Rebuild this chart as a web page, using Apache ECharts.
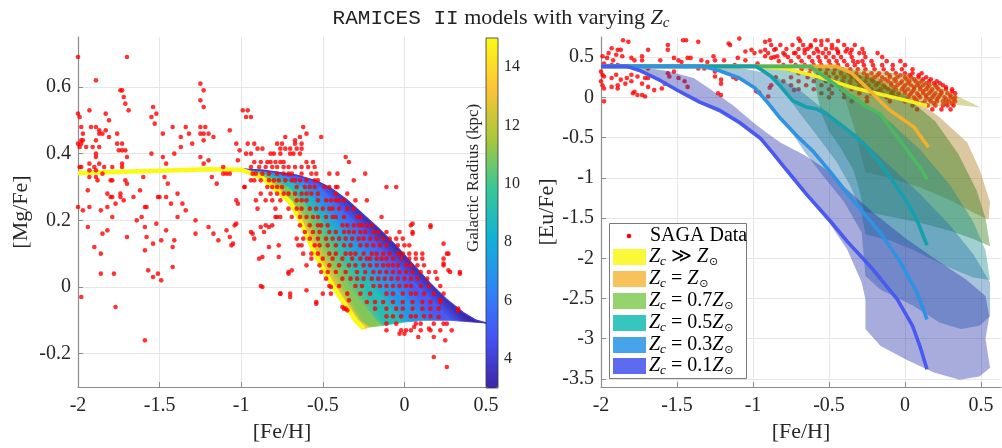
<!DOCTYPE html>
<html><head><meta charset="utf-8">
<script src="https://cdn.jsdelivr.net/npm/echarts@6/dist/echarts.min.js"></script>
<style>html,body{margin:0;padding:0;background:#fff}#c{width:1002px;height:448px}</style>
</head><body><div id="c"></div>
<script>
// ---------------- DATA ----------------
const xTicks = [-2, -1.5, -1, -0.5, 0, 0.5];
const mgTicks = [-0.2, 0, 0.2, 0.4, 0.6];
const euTicks = [-3.5, -3, -2.5, -2, -1.5, -1, -0.5, 0, 0.5];
const radiusTicks = [4, 6, 8, 10, 12, 14];

// SAGA [Mg/Fe] points (sparse part), [FeH, MgFe]
const sagaMgSparse = [[-2.0,0.69],[-1.70,0.69],[-1.89,0.62],[-1.74,0.59],[-1.73,0.59],[-1.72,0.57],[-1.71,0.55],[-1.69,0.53],[-1.93,0.53],[-2.0,0.52],[-1.99,0.51],[-1.83,0.52],[-1.81,0.50],[-1.98,0.48],[-1.92,0.48],[-1.89,0.48],[-1.87,0.47],[-1.87,0.46],[-1.85,0.46],[-1.83,0.47],[-1.97,0.46],[-1.81,0.45],[-1.76,0.46],[-1.98,0.44],[-1.97,0.44],[-1.89,0.44],[-2.0,0.43],[-1.99,0.42],[-1.98,0.43],[-1.95,0.42],[-1.91,0.42],[-1.87,0.42],[-1.76,0.43],[-1.73,0.43],[-1.75,0.41],[-1.73,0.41],[-1.71,0.41],[-1.89,0.40],[-1.89,0.39],[-1.70,0.39],[-1.73,0.37],[-1.93,0.37],[-1.87,0.37],[-1.99,0.36],[-1.98,0.36],[-1.90,0.36],[-1.84,0.36],[-1.79,0.36],[-1.73,0.36],[-1.93,0.35],[-1.89,0.35],[-1.93,0.33],[-1.89,0.33],[-1.85,0.34],[-1.88,0.32],[-1.80,0.32],[-1.79,0.32],[-1.71,0.32],[-1.70,0.31],[-1.94,0.29],[-1.82,0.28],[-1.74,0.28],[-1.74,0.27],[-1.80,0.27],[-1.79,0.27],[-1.72,0.26],[-1.77,0.25],[-1.62,0.29],[-1.66,0.27],[-2.0,0.24],[-1.93,0.24],[-1.82,0.24],[-1.97,0.23],[-1.86,0.23],[-1.79,0.21],[-1.64,0.20],[-1.94,0.18],[-1.82,0.17],[-1.85,0.16],[-1.70,0.15],[-1.90,0.12],[-1.86,0.10],[-1.86,0.04],[-1.78,0.04],[-1.98,-0.03],[-1.77,-0.06],[-1.59,-0.16],[-1.60,0.33],[-1.59,0.24],[-1.58,0.24],[-1.61,0.21],[-1.59,0.18],[-1.58,0.15],[-1.54,0.13],[-1.59,0.11],[-1.57,0.05],[-1.54,0.03],[-1.51,0.04],[-1.49,0.02],[-1.52,0.19],[-1.51,0.27],[-1.50,0.27],[-1.54,0.54],[-1.55,0.51],[-1.52,0.52],[-1.53,0.49],[-1.55,0.40],[-1.48,0.46],[-1.48,0.39],[-1.46,0.37],[-1.47,0.33],[-1.45,0.31],[-1.46,0.27],[-1.43,0.25],[-1.39,0.28],[-1.36,0.25],[-1.34,0.23],[-1.39,0.21],[-1.46,0.17],[-1.49,0.14],[-1.41,0.14],[-1.42,0.12],[-1.42,0.06],[-1.42,0.48],[-1.37,0.45],[-1.37,0.42],[-1.34,0.48],[-1.32,0.46],[-1.30,0.43],[-1.41,0.40],[-1.28,0.20],[-1.28,0.16],[-1.25,0.61],[-1.23,0.59],[-1.25,0.56],[-1.23,0.54],[-1.25,0.48],[-1.22,0.48],[-1.25,0.46],[-1.23,0.46],[-1.20,0.46],[-1.23,0.44],[-1.17,0.45],[-1.25,0.39],[-1.23,0.37],[-1.20,0.38],[-1.18,0.33],[-1.15,0.31],[-1.11,0.36],[-1.11,0.34],[-1.09,0.34],[-1.07,0.34],[-1.07,0.47],[-1.03,0.43],[-1.01,0.41],[-1.02,0.38],[-1.02,0.25],[-1.03,0.19],[-1.20,0.18],[-1.17,0.16],[-1.14,0.14],[-1.09,0.17],[-1.07,0.15],[-1.05,0.13],[-0.99,0.53],[-0.96,0.53],[-0.97,0.51],[-0.94,0.51],[-0.98,0.30],
 [-0.73,0.45],[-0.62,0.48],[-0.60,0.46],[-0.64,0.45],[-0.51,0.45],[-0.67,0.44],
 [-0.03,-0.14],[0.0,-0.14],[0.085,-0.15],[0.18,-0.15],[0.25,-0.16],[0.18,-0.21],[0.26,-0.24],[-0.11,-0.13],[0.06,-0.12],[0.15,-0.125],
 [0.24,0.13],[0.26,0.10],[0.24,0.07],[0.34,0.04],[0.27,0.05],[0.33,-0.07],[0.22,-0.04],[0.21,-0.09],[0.26,-0.11],[0.05,0.19],[0.05,0.16],[0.16,0.18],
 [-0.87,0.09],[-0.87,0.0],[-0.83,0.12],[-0.77,0.09],[-0.76,-0.02],[-0.70,-0.03],[-0.71,0.04],[-0.69,0.05],[-0.60,-0.01],[-0.54,-0.05],[-0.50,-0.02],[-0.34,-0.04],[-0.38,-0.06],[-0.35,-0.07],[-0.45,0.0],[-0.93,0.16],[-0.88,0.18],[-0.83,0.18]];

// SAGA [Mg/Fe] dense part, rows: [MgFe, [FeH ...]]
const sagaMgRows = [
 [0.43,[-0.96,-0.92,-0.78,-0.75,-0.67,-0.63]],
 [0.415,[-0.90,-0.87,-0.76,-0.73,-0.70,-0.66,-0.63]],
 [0.40,[-0.97,-0.94,-0.82,-0.80,-0.76,-0.70,-0.68,-0.64]],
 [0.39,[-0.36]],
 [0.375,[-0.92,-0.88,-0.84,-0.82,-0.79,-0.76,-0.74,-0.60,-0.56,-0.34]],
 [0.36,[-0.94,-0.89,-0.85,-0.81,-0.78,-0.74,-0.71,-0.67,-0.63,-0.59,-0.55]],
 [0.34,[-0.93,-0.91,-0.87,-0.83,-0.78,-0.74,-0.71,-0.69,-0.63,-0.57,-0.54,-0.46,-0.41,-0.24]],
 [0.32,[-0.94,-0.92,-0.88,-0.83,-0.80,-0.77,-0.73,-0.69,-0.67,-0.64,-0.60,-0.55,-0.53,-0.31]],
 [0.30,[-0.98,-0.84,-0.81,-0.78,-0.75,-0.66,-0.61,-0.58,-0.55,-0.49,-0.46,-0.42,-0.41,-0.11,-0.05]],
 [0.28,[-0.88,-0.82,-0.78,-0.74,-0.71,-0.67,-0.63,-0.60,-0.57,-0.53,-0.42,-0.35]],
 [0.26,[-1.03,-0.91,-0.85,-0.81,-0.76,-0.66,-0.63,-0.60,-0.53,-0.48,-0.45,-0.42,-0.40,-0.37,-0.30,-0.23]],
 [0.235,[-0.90,-0.79,-0.71,-0.66,-0.63,-0.58,-0.54,-0.50,-0.46,-0.44,-0.40,-0.35,-0.31]],
 [0.21,[-0.79,-0.78,-0.76,-0.69,-0.64,-0.60,-0.56,-0.53,-0.48,-0.44,-0.42,-0.37,-0.29,-0.27,-0.14]],
 [0.185,[-1.04,-0.85,-0.81,-0.64,-0.58,-0.53,-0.51,-0.47,-0.38,-0.35,-0.31,-0.28,-0.26,-0.23,-0.20,0.04,0.16]],
 [0.165,[-0.94,-0.86,-0.61,-0.56,-0.52,-0.46,-0.42,-0.37,-0.34,-0.31,-0.27,-0.24,-0.19,-0.16,-0.11,-0.03,0.05]],
 [0.145,[-0.92,-0.66,-0.62,-0.58,-0.53,-0.48,-0.44,-0.40,-0.36,-0.32,-0.28,-0.25,-0.21,-0.17,-0.13,-0.09,-0.05,-0.01]],
 [0.125,[-1.06,-0.77,-0.65,-0.63,-0.55,-0.52,-0.47,-0.42,-0.37,-0.33,-0.27,-0.23,-0.19,-0.15,-0.11,-0.04,0.0,0.03]],
 [0.10,[-0.62,-0.57,-0.53,-0.46,-0.42,-0.36,-0.33,-0.30,-0.25,-0.20,-0.17,-0.13,-0.09,-0.04,-0.01,0.03,0.07,0.11,0.27]],
 [0.085,[-0.89,-0.57,-0.50,-0.44,-0.38,-0.32,-0.27,-0.23,-0.21,-0.17,-0.14,-0.11,-0.07,-0.02,0.03,0.07,0.11,0.24]],
 [0.065,[-0.60,-0.52,-0.46,-0.40,-0.34,-0.30,-0.25,-0.21,-0.17,-0.13,-0.10,-0.07,-0.04,0.01,0.04,0.08,0.12,0.24]],
 [0.045,[-0.71,-0.51,-0.47,-0.42,-0.36,-0.29,-0.24,-0.19,-0.15,-0.11,-0.07,-0.03,0.01,0.05,0.10,0.15,0.19,0.28,0.34]],
 [0.025,[-0.48,-0.38,-0.33,-0.29,-0.25,-0.20,-0.16,-0.12,-0.08,-0.04,0.0,0.04,0.08,0.14,0.20]],
 [0.003,[-0.88,-0.46,-0.40,-0.30,-0.26,-0.19,-0.15,-0.11,-0.07,-0.03,0.01,0.04,0.10,0.15,0.22]],
 [-0.02,[-0.76,-0.70,-0.45,-0.35,-0.27,-0.21,-0.11,-0.07,-0.01,0.04,0.07,0.12,0.18,0.24]],
 [-0.045,[-0.54,-0.23,-0.18,-0.13,-0.07,-0.01,0.05,0.11,0.16,0.22]],
 [-0.065,[-0.37,-0.36,-0.18,-0.11,-0.05,-0.01,0.05,0.11,0.16,0.21,0.33]],
 [-0.088,[-0.11,-0.07,-0.02,0.04,0.07,0.12,0.16]],
 [-0.11,[-0.11,-0.05,0.07,0.10,0.18,0.24]],
 [-0.13,[-0.02,0.01,0.04,0.10,0.16,0.22,0.29]]
];

// RAMICES II [Mg/Fe] tracks for several galactic radii (kpc)
const trackRadii = [15, 13, 11, 9, 7, 5, 3];
const trackR15 = [[-2,0.342],[-1.5,0.349],[-1.2,0.353],[-1.0,0.352],[-0.95,0.343],[-0.87,0.327],[-0.81,0.30],[-0.70,0.255],[-0.64,0.2],[-0.55,0.1],[-0.435,0.0],[-0.30,-0.1],[-0.25,-0.125]];
const trackR13 = [[-1.0,0.353],[-0.93,0.343],[-0.795,0.30],[-0.625,0.2],[-0.53,0.1],[-0.41,0.0],[-0.27,-0.1],[-0.21,-0.12]];
const trackR11 = [[-1.0,0.353],[-0.9,0.345],[-0.765,0.30],[-0.58,0.2],[-0.47,0.1],[-0.34,0.0],[-0.17,-0.1],[-0.13,-0.115]];
const trackR9 = [[-1.0,0.354],[-0.88,0.345],[-0.71,0.30],[-0.50,0.2],[-0.36,0.1],[-0.2,0.0],[-0.02,-0.1],[0.0,-0.105]];
const trackR7 = [[-1.0,0.354],[-0.85,0.345],[-0.62,0.30],[-0.42,0.2],[-0.25,0.1],[-0.07,0.0],[0.12,-0.1]];
const trackR5 = [[-1.0,0.354],[-0.8,0.345],[-0.52,0.30],[-0.32,0.2],[-0.12,0.1],[0.08,0.0],[0.28,-0.1]];
const trackR3 = [[-2,0.342],[-1.5,0.349],[-1.2,0.353],[-1.0,0.354],[-0.865,0.350],[-0.66,0.335],[-0.54,0.318],[-0.456,0.298],[-0.354,0.262],[-0.252,0.217],[-0.15,0.172],[-0.048,0.122],[0.054,0.067],[0.156,0.012],[0.26,-0.038],[0.36,-0.077],[0.44,-0.100],[0.5,-0.108]];

// SAGA [Eu/Fe] sparse points
const sagaEuSparse = [[-1.855,0.71],[-1.82,0.69],[-1.93,0.61],[-1.89,0.59],[-1.87,0.59],[-1.95,0.55],[-1.90,0.53],[-1.99,0.51],[-1.96,0.49],[-1.92,0.46],[-1.86,0.51],[-1.80,0.49],[-1.73,0.51],[-1.78,0.46],[-1.69,0.59],[-1.98,0.42],[-1.93,0.40],[-1.89,0.40],[-1.82,0.38],[-1.78,0.38],[-1.73,0.46],[-1.69,0.36],[-2.0,0.32],[-1.99,0.28],[-1.98,0.26],[-1.93,0.24],[-1.90,0.28],[-1.87,0.22],[-1.83,0.24],[-1.80,0.28],[-1.76,0.26],[-1.71,0.24],[-1.89,0.15],[-1.84,0.17],[-1.80,0.20],[-1.73,0.17],[-1.69,0.24],[-1.99,0.15],[-1.98,0.11],[-1.93,0.13],[-2.0,0.20],[-1.89,0.11],[-1.78,0.07],[-1.73,0.03],[-1.71,0.01],[-1.69,0.13],[-1.65,0.09],[-1.60,0.11],[-1.58,0.17],[-1.98,-0.05],[-1.79,0.05],[-1.76,0.03],[-1.61,0.46],[-1.56,0.65],[-1.56,0.59],[-1.52,0.49],[-1.46,0.71],[-1.44,0.71],[-1.49,0.46],[-1.47,0.44],[-1.43,0.49],[-1.36,0.69],[-1.41,0.49],[-1.34,0.46],[-1.26,0.51],[-1.25,0.46],[-1.19,0.46],[-1.30,0.44],[-1.36,0.36],[-1.32,0.36],[-1.25,0.32],[-1.25,0.26],[-1.21,0.22],[-1.21,0.17],[-1.23,0.05],[-1.21,0.03],[-1.43,0.13],[-1.45,0.20],[-1.49,0.24],[-1.56,0.30],[-1.55,0.26],[-1.52,0.32],[-1.16,0.67],[-1.15,0.65],[-1.09,0.73],[-1.05,0.57],[-1.01,0.59],[-0.99,0.55],[-0.95,0.57],[-0.92,0.59],[-0.92,0.69],[-0.89,0.71],[-0.88,0.65],[-0.86,0.59],[-1.10,0.49],[-1.05,0.46],[-1.12,0.40],[-0.97,0.42],[-0.92,0.51],[-0.88,0.49],[-0.84,0.51],[-0.79,0.53],[-0.73,0.55],[-0.70,0.73],[-0.67,0.65],[-0.66,0.59],[-0.62,0.63],[-0.59,0.71],[-0.57,0.57],[-0.51,0.71],[-0.48,0.61],[-0.44,0.57],[-0.39,0.57],[-0.35,0.59],[-0.31,0.44],[-0.27,0.55],[-0.88,0.15],[-0.97,0.07],[-0.90,0.01],[-0.73,0.09],[-1.13,0.25],[-1.11,0.23],[-0.98,0.08],[-0.96,0.06],[-0.89,0.12]];

// SAGA [Eu/Fe] dense part, rows: [EuFe, [FeH ...]]
const sagaEuRows = [
 [0.70,[-0.69,-0.55,-0.44]],
 [0.65,[-0.82,-0.74,-0.62,-0.55,-0.48,-0.40,-0.33]],
 [0.60,[-0.85,-0.78,-0.70,-0.64,-0.58,-0.52,-0.45,-0.38,-0.28]],
 [0.55,[-0.90,-0.80,-0.72,-0.66,-0.60,-0.54,-0.50,-0.44,-0.36,-0.30,-0.18]],
 [0.50,[-0.86,-0.77,-0.70,-0.63,-0.57,-0.52,-0.47,-0.42,-0.35,-0.26,-0.15]],
 [0.45,[-0.83,-0.75,-0.68,-0.61,-0.56,-0.50,-0.45,-0.40,-0.34,-0.28,-0.22,-0.12,-0.03]],
 [0.40,[-0.80,-0.72,-0.66,-0.60,-0.55,-0.49,-0.44,-0.38,-0.33,-0.27,-0.21,-0.15,-0.08,0.0]],
 [0.35,[-0.76,-0.68,-0.62,-0.56,-0.51,-0.46,-0.41,-0.36,-0.31,-0.26,-0.20,-0.14,-0.08,-0.02,0.05]],
 [0.30,[-0.70,-0.63,-0.57,-0.52,-0.47,-0.42,-0.37,-0.32,-0.27,-0.22,-0.17,-0.12,-0.06,0.0,0.05,0.11]],
 [0.275,[-0.35,-0.25,-0.18,-0.10,-0.03,0.03,0.09]],
 [0.25,[-0.85,-0.75,-0.64,-0.58,-0.50,-0.45,-0.40,-0.35,-0.30,-0.25,-0.20,-0.15,-0.10,-0.05,0.0,0.04,0.09,0.14]],
 [0.225,[-0.32,-0.22,-0.13,-0.07,0.01,0.06,0.12,0.17]],
 [0.20,[-0.80,-0.70,-0.60,-0.52,-0.46,-0.41,-0.36,-0.31,-0.26,-0.21,-0.16,-0.11,-0.06,-0.02,0.03,0.07,0.11,0.16,0.21]],
 [0.175,[-0.28,-0.18,-0.09,-0.03,0.02,0.09,0.14,0.19,0.23]],
 [0.15,[-0.75,-0.65,-0.55,-0.48,-0.42,-0.36,-0.30,-0.24,-0.19,-0.14,-0.09,-0.05,0.0,0.04,0.08,0.12,0.16,0.20,0.25]],
 [0.125,[-0.25,-0.13,-0.07,-0.01,0.06,0.10,0.15,0.21,0.27]],
 [0.10,[-0.70,-0.60,-0.50,-0.42,-0.35,-0.28,-0.22,-0.16,-0.11,-0.06,-0.02,0.02,0.06,0.10,0.14,0.18,0.22,0.27,0.31]],
 [0.075,[-0.18,-0.08,0.0,0.05,0.12,0.17,0.24,0.31]],
 [0.05,[-0.55,-0.48,-0.40,-0.30,-0.22,-0.15,-0.09,-0.04,0.0,0.04,0.08,0.12,0.16,0.20,0.24,0.28,0.33]],
 [0.025,[-0.08,0.03,0.09,0.14,0.19,0.23,0.30]],
 [0.0,[-0.50,-0.40,-0.25,-0.12,-0.05,0.02,0.06,0.10,0.14,0.18,0.22,0.26,0.30,0.33]],
 [-0.025,[0.07,0.16,0.21,0.27,0.32]],
 [-0.05,[-0.35,-0.25,-0.10,0.0,0.08,0.13,0.17,0.21,0.25,0.29,0.33]],
 [-0.075,[0.11,0.19,0.27,0.31]],
 [-0.10,[0.05,0.15,0.20,0.25,0.28,0.32]],
 [-0.15,[0.08,0.18,0.24,0.30]]
];

// model names
const modelNames = ['Zc >> Zsun', 'Zc = Zsun', 'Zc = 0.7 Zsun', 'Zc = 0.5 Zsun', 'Zc = 0.3 Zsun', 'Zc = 0.1 Zsun'];
const modelLabels = ['{i|Z}{b|c}{n| \u226B }{i|Z}{o|\u2299}', '{i|Z}{b|c}{n| = }{i|Z}{o|\u2299}', '{i|Z}{b|c}{n| = 0.7}{i|Z}{o|\u2299}', '{i|Z}{b|c}{n| = 0.5}{i|Z}{o|\u2299}', '{i|Z}{b|c}{n| = 0.3}{i|Z}{o|\u2299}', '{i|Z}{b|c}{n| = 0.1}{i|Z}{o|\u2299}'];

// [Eu/Fe] model central lines
const euLineHigh = [[-2,0.385],[-1.0,0.385],[-0.78,0.355],[-0.56,0.25],[-0.34,0.12],[-0.12,0.02],[0.01,-0.04],[0.145,-0.105]];
const euLineSun = [[-2,0.385],[-0.45,0.385],[-0.35,0.30],[-0.25,0.12],[-0.16,-0.05],[-0.10,-0.16],[-0.03,-0.25],[0.06,-0.37],[0.12,-0.53],[0.155,-0.62]];
const euLine07 = [[-2,0.385],[-0.62,0.385],[-0.56,0.30],[-0.43,0.12],[-0.34,0.0],[-0.25,-0.12],[-0.16,-0.21],[-0.10,-0.37],[-0.03,-0.54],[0.03,-0.70],[0.10,-0.87],[0.145,-1.02]];
const euLine05 = [[-2,0.385],[-0.98,0.385],[-0.95,0.35],[-0.88,0.26],[-0.82,0.14],[-0.74,-0.04],[-0.65,-0.12],[-0.58,-0.145],[-0.52,-0.2],[-0.43,-0.33],[-0.34,-0.46],[-0.25,-0.62],[-0.16,-0.83],[-0.08,-1.04],[0.01,-1.29],[0.08,-1.53],[0.145,-1.84]];
const euLine03 = [[-2,0.385],[-1.33,0.385],[-1.22,0.33],[-1.09,0.24],[-0.99,0.12],[-0.91,-0.05],[-0.82,-0.26],[-0.71,-0.48],[-0.60,-0.68],[-0.49,-0.93],[-0.38,-1.19],[-0.27,-1.44],[-0.16,-1.69],[-0.03,-2.05],[0.08,-2.43],[0.145,-2.76]];
const euLine01 = [[-2,0.385],[-1.83,0.385],[-1.74,0.33],[-1.61,0.21],[-1.48,0.07],[-1.35,-0.06],[-1.22,-0.16],[-1.09,-0.31],[-0.95,-0.51],[-0.87,-0.69],[-0.78,-0.90],[-0.65,-1.20],[-0.49,-1.54],[-0.38,-1.79],[-0.21,-2.14],[-0.05,-2.51],[0.05,-2.84],[0.10,-3.10],[0.145,-3.38]];

// [Eu/Fe] model spread regions (outline polygons)
const euBandHigh = [[-0.75,0.385],[-0.4,0.37],[-0.2,0.33],[0.0,0.29],[0.19,0.17],[0.32,0.04],[0.5,-0.125],[0.32,-0.09],[0.15,-0.12],[0.0,-0.06],[-0.2,0.04],[-0.4,0.16],[-0.6,0.3]];
const euBandSun = [[-0.45,0.385],[-0.2,0.27],[0.0,0.06],[0.23,-0.25],[0.41,-0.56],[0.49,-0.89],[0.56,-1.3],[0.55,-1.52],[0.45,-1.43],[0.3,-1.28],[0.1,-1.12],[-0.1,-1.0],[-0.26,-0.93],[-0.29,-0.7],[-0.33,-0.4],[-0.38,-0.1],[-0.42,0.15],[-0.44,0.33]];
const euBand07 = [[-0.62,0.385],[-0.4,0.34],[-0.2,0.22],[0.0,0.02],[0.2,-0.3],[0.35,-0.7],[0.47,-1.15],[0.53,-1.5],[0.56,-1.85],[0.45,-1.76],[0.3,-1.66],[0.1,-1.56],[-0.1,-1.48],[-0.27,-1.42],[-0.30,-1.15],[-0.34,-0.9],[-0.42,-0.64],[-0.50,-0.42],[-0.55,-0.2],[-0.58,0.05],[-0.60,0.3]];
const euBand05 = [[-0.98,0.385],[-0.7,0.34],[-0.5,0.2],[-0.3,-0.02],[-0.1,-0.3],[0.1,-0.65],[0.3,-1.1],[0.45,-1.55],[0.53,-1.9],[0.56,-2.27],[0.45,-2.24],[0.27,-2.10],[0.05,-1.89],[-0.1,-1.78],[-0.26,-1.70],[-0.29,-1.4],[-0.36,-1.1],[-0.45,-0.8],[-0.55,-0.55],[-0.63,-0.35],[-0.7,-0.18],[-0.76,-0.02],[-0.84,0.16],[-0.92,0.32]];
const euBand03 = [[-1.33,0.385],[-1.1,0.37],[-0.9,0.3],[-0.7,0.1],[-0.5,-0.2],[-0.3,-0.5],[-0.1,-0.85],[0.1,-1.2],[0.3,-1.6],[0.45,-1.95],[0.56,-2.3],[0.56,-2.72],[0.49,-2.84],[0.37,-2.88],[0.23,-2.80],[0.055,-2.59],[-0.16,-2.39],[-0.26,-2.22],[-0.285,-1.68],[-0.4,-1.3],[-0.55,-0.95],[-0.66,-0.68],[-0.75,-0.42],[-0.84,-0.2],[-0.91,-0.05],[-0.99,0.12],[-1.09,0.24],[-1.22,0.33]];
const euBand01 = [[-1.80,0.385],[-1.68,0.36],[-1.57,0.33],[-1.39,0.24],[-1.28,0.10],[-1.13,-0.10],[-1.0,-0.31],[-0.91,-0.44],[-0.82,-0.56],[-0.66,-0.72],[-0.53,-0.88],[-0.43,-1.06],[-0.21,-1.43],[0.01,-1.76],[0.23,-2.05],[0.40,-2.26],[0.53,-2.47],[0.555,-2.72],[0.53,-3.0],[0.56,-3.36],[0.49,-3.47],[0.36,-3.51],[0.19,-3.42],[0.01,-3.26],[-0.16,-3.09],[-0.26,-2.88],[-0.26,-2.51],[-0.285,-2.30],[-0.38,-1.89],[-0.49,-1.58],[-0.65,-1.23],[-0.78,-0.93],[-0.87,-0.72],[-0.95,-0.54],[-1.09,-0.34],[-1.22,-0.19],[-1.35,-0.08],[-1.48,0.05],[-1.61,0.19],[-1.74,0.32]];

// ---------------- STYLE ----------------
const serif = "'Liberation Serif','DejaVu Serif',serif";
const parula = ['#3e26a8','#4852f4','#2d87f7','#11b1d6','#37c897','#abc739','#fec338','#f9fb14'];
const lineColors = ['#f5f020','#f0b030','#4cb860','#16a0ae','#2f92e2','#4a5af0'];
const legendColors = ['#f9f93a','#f7c25a','#95d36d','#36c6bd','#47a3ea','#5d6bf0'];
const bandFills = ['rgba(157,157,17,0.4)','rgba(167,117,17,0.4)','rgba(37,117,17,0.4)','rgba(17,137,137,0.4)','rgba(32,107,167,0.4)','rgba(37,47,170,0.4)'];

function hex2rgb(h){return [parseInt(h.substr(1,2),16),parseInt(h.substr(3,2),16),parseInt(h.substr(5,2),16)];}
function parulaAt(r){
  const t=(r-3)/12*(parula.length-1); const i=Math.min(Math.floor(t),parula.length-2); const f=t-i;
  const a=hex2rgb(parula[i]), b=hex2rgb(parula[i+1]);
  return 'rgb('+a.map((v,k)=>Math.round(v+(b[k]-v)*f)).join(',')+')';
}
function rowsToPoints(rows){const out=[];rows.forEach(([y,xs])=>xs.forEach(x=>out.push([x,y])));return out;}
function nearestY(curve, y){let best=curve[0];curve.forEach(p=>{if(Math.abs(p[1]-y)<Math.abs(best[1]-y))best=p;});return best;}

const tracks = [trackR15, trackR13, trackR11, trackR9, trackR7, trackR5, trackR3];
const euLines = [euLineHigh, euLineSun, euLine07, euLine05, euLine03, euLine01];
const euBands = [euBandHigh, euBandSun, euBand07, euBand05, euBand03, euBand01];

const axisCol = '#8c8c8c', gridCol = '#e6e6e6', txtCol = '#262626';
function xAxisCfg(gi, max){
  return {type:'value', gridIndex:gi, min:-2, max:max,
    axisLine:{show:true, onZero:false, lineStyle:{color:axisCol, width:1.2}},
    axisTick:{show:true, inside:true, length:5, customValues:xTicks, lineStyle:{color:axisCol}},
    axisLabel:{customValues:xTicks, margin:9, color:txtCol, fontFamily:serif, fontSize:20},
    splitLine:{show:true, lineStyle:{color:gridCol, width:1}},
    name:'[Fe/H]', nameLocation:'middle', nameGap:31,
    nameTextStyle:{color:txtCol, fontFamily:serif, fontSize:22}};
}
function yAxisCfg(gi, min, max, ticks, name, gap){
  return {type:'value', gridIndex:gi, min:min, max:max,
    axisLine:{show:true, onZero:false, lineStyle:{color:axisCol, width:1.2}},
    axisTick:{show:true, inside:true, length:5, customValues:ticks, lineStyle:{color:axisCol}},
    axisLabel:{customValues:ticks, margin:7, color:txtCol, fontFamily:serif, fontSize:20},
    splitLine:{show:true, lineStyle:{color:gridCol, width:1}},
    name:name, nameLocation:'middle', nameGap:gap, nameRotate:90,
    nameTextStyle:{color:txtCol, fontFamily:serif, fontSize:22}};
}

const series = [];
// 0: left model region (custom polygons between adjacent radius tracks)
series.push({
  type:'custom', xAxisIndex:0, yAxisIndex:0, clip:true, z:1, silent:true,
  data: tracks.slice(0,-1).map((t,i)=>[t[t.length-1][0], t[t.length-1][1], i]),
  renderItem:function(params, api){
    const k = params.dataIndex;
    const a = tracks[k].filter(p=>p[0]>=-1.0), b = tracks[k+1].filter(p=>p[0]>=-1.0);
    const pts = a.concat(b.slice().reverse()).map(p=>api.coord(p));
    const t0 = api.coord(nearestY(tracks[k],0.2)), t1 = api.coord(nearestY(tracks[k],0.0));
    let tx=t1[0]-t0[0], ty=t1[1]-t0[1]; const tl=Math.hypot(tx,ty); tx/=tl; ty/=tl;
    let nx=ty, ny=-tx;
    const A = api.coord(nearestY(tracks[k],0.1)), B = api.coord(nearestY(tracks[k+1],0.1));
    let d = (B[0]-A[0])*nx + (B[1]-A[1])*ny;
    if (d<0){nx=-nx;ny=-ny;d=-d;}
    const grad = {type:'linear', global:true, x:A[0], y:A[1], x2:A[0]+nx*d, y2:A[1]+ny*d,
      colorStops:[{offset:0,color:parulaAt(trackRadii[k])},{offset:1,color:parulaAt(trackRadii[k+1])}]};
    return {type:'polygon', shape:{points:pts}, style:{fill:grad, stroke:grad, lineWidth:0.8}};
  }
});
// 1,2: boundary tracks
series.push({type:'line', xAxisIndex:0, yAxisIndex:0, z:2, silent:true, showSymbol:false, data:trackR3, lineStyle:{color:parulaAt(3.8), width:1.5}});
series.push({type:'line', xAxisIndex:0, yAxisIndex:0, z:2, silent:true, showSymbol:false, data:trackR15, lineStyle:{color:parulaAt(15), width:4.5}});
// 3: SAGA Mg
series.push({name:'SAGA Data', type:'scatter', xAxisIndex:0, yAxisIndex:0, z:3, silent:true, symbolSize:4.6,
  itemStyle:{color:'#ff0000'}, data: sagaMgSparse.concat(rowsToPoints(sagaMgRows))});
// 4: SAGA Eu
series.push({name:'SAGA Data', type:'scatter', xAxisIndex:1, yAxisIndex:1, z:1, silent:true, symbolSize:4.6,
  itemStyle:{color:'#ff0000'}, data: sagaEuSparse.concat(rowsToPoints(sagaEuRows))});
// 5: Eu bands
series.push({
  type:'custom', xAxisIndex:1, yAxisIndex:1, clip:true, z:2, silent:true,
  data: euBands.map((b,i)=>[b[0][0], b[0][1], i]),
  renderItem:function(params, api){
    const k = params.dataIndex;
    return {type:'polygon', shape:{points:euBands[k].map(p=>api.coord(p))}, style:{fill:bandFills[k]}};
  }
});
// 6..11: Eu lines
euLines.forEach((ln,i)=>{
  series.push({name:modelNames[i], type:'line', xAxisIndex:1, yAxisIndex:1, z:3, silent:true, showSymbol:false,
    data:ln, lineStyle:{color:lineColors[i], width:3.6}});
});
// 12: colorbar helper
series.push({type:'scatter', xAxisIndex:2, yAxisIndex:2, data:[], silent:true});

// legend (drawn as graphic)
const legX = 609, legY = 223, legW = 137, legH = 155;
const rich = {
  i:{fontFamily:serif, fontStyle:'italic', fontSize:20, color:'#000'},
  b:{fontFamily:serif, fontStyle:'italic', fontSize:13, color:'#000', padding:[10,0,0,0]},
  n:{fontFamily:serif, fontSize:20, color:'#000'},
  o:{fontFamily:"'DejaVu Sans',sans-serif", fontSize:11, color:'#000', padding:[10,0,0,1]}
};
const graphics = [
  {type:'rect', z:50, shape:{x:legX+0.5, y:legY+0.5, width:legW, height:legH}, style:{fill:'#fff', stroke:'#7a7a7a', lineWidth:1}},
  {type:'circle', z:51, shape:{cx:629, cy:236, r:2.3}, style:{fill:'#ff0000'}},
  {type:'text', z:51, x:650, y:236, style:{text:'SAGA Data', fontFamily:serif, fontSize:20, fill:'#000', verticalAlign:'middle'}},
];
const rowY = [257, 279, 301, 323, 345, 366];
modelLabels.forEach((lab,i)=>{
  graphics.push({type:'rect', z:51, shape:{x:613, y:rowY[i]-8, width:33, height:16}, style:{fill:legendColors[i]}});
  graphics.push({type:'text', z:51, x:649, y:rowY[i], style:{text:lab, rich:rich, verticalAlign:'middle'}});
});
// colorbar frame and label
graphics.push({type:'rect', z:60, shape:{x:486, y:38, width:12, height:350}, style:{fill:null, stroke:'#333', lineWidth:0.8}});
graphics.push({type:'text', z:60, x:474, y:178, rotation:Math.PI/2, style:{text:'Galactic Radius (kpc)', fontFamily:serif, fontSize:17, fill:txtCol, align:'center', verticalAlign:'middle'}});

const option = {
  animation:false,
  backgroundColor:'#fff',
  title:{left:'center', top:1, text:'{m|RAMICES II}{s| models with varying }{i|Z}{b|c}',
    textStyle:{fontWeight:'normal', rich:{
      m:{fontFamily:"'Liberation Mono','DejaVu Sans Mono',monospace", fontWeight:'normal', fontSize:21, color:'#222'},
      s:{fontFamily:serif, fontWeight:'normal', fontSize:22, color:'#222'},
      i:{fontFamily:serif, fontWeight:'normal', fontStyle:'italic', fontSize:22, color:'#222'},
      b:{fontFamily:serif, fontWeight:'normal', fontStyle:'italic', fontSize:15, color:'#222', padding:[10,0,0,0]}}}},
  grid:[
    {left:78, top:37, width:408, height:350},
    {left:601, top:37, width:400, height:350},
    {left:486, top:38, width:12, height:350}
  ],
  xAxis:[xAxisCfg(0, 0.5), xAxisCfg(1, 0.632),
    {type:'value', gridIndex:2, show:false, min:0, max:1}],
  yAxis:[yAxisCfg(0, -0.3, 0.75, mgTicks, '[Mg/Fe]', 46), yAxisCfg(1, -3.6, 0.75, euTicks, '[Eu/Fe]', 38),
    {type:'value', gridIndex:2, min:3, max:15, position:'right',
     axisLine:{show:false}, splitLine:{show:false},
     axisTick:{show:true, inside:false, length:3, customValues:radiusTicks, lineStyle:{color:'#333'}},
     axisLabel:{customValues:radiusTicks, margin:6, color:txtCol, fontFamily:serif, fontSize:16}}],
  visualMap:{type:'continuous', min:3, max:15, seriesIndex:[12], left:486, top:38, itemWidth:12, itemHeight:350,
    padding:0, calculable:false, text:null, inRange:{color:parula}, orient:'vertical'},
  series:series,
  graphic:graphics
};
const chart = echarts.init(document.getElementById('c'));
chart.setOption(option);
</script></body></html>
